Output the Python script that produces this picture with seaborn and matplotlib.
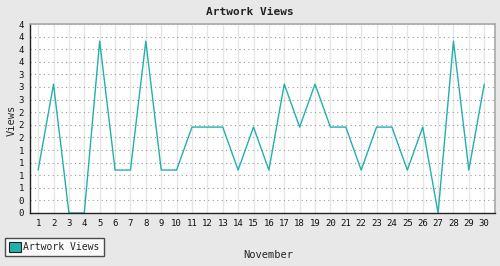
import matplotlib
matplotlib.use("Agg")
import matplotlib.pyplot as plt
import seaborn as sns
import pandas as pd
import numpy as np

days = list(range(1, 31))
views = [1, 3, 0, 0, 4, 1, 1, 4, 1, 1, 2, 2, 2, 1, 2, 1, 3, 2, 3, 2, 2, 1, 2, 2, 1, 2, 0, 4, 1, 3]
series_name = "Artwork Views"
ymax = 4.4
nticks = 15

df = pd.DataFrame({"day": days, "views": views})

sns.set_theme(style="white")
plt.rcParams['font.family'] = ['DejaVu Sans Mono']

fig = plt.figure(figsize=(5, 2.66), dpi=100, facecolor="#e8e8e8")
ax = fig.add_axes([30/500, 1-213/266, 465/500, 189/266])
ax.set_facecolor("white")

line_color = "#22b0ad"
sns.lineplot(data=df, x="day", y="views", ax=ax, color=line_color, linewidth=1.0, label=series_name, legend=False)

ax.set_xlim(0.47, 30.7)
ax.set_ylim(0, ymax)
ax.set_xticks(days)
ax.set_xticklabels([str(d) for d in days], fontsize=6.5)
yt = [k * ymax / nticks for k in range(nticks + 1)]
ax.set_yticks(yt)
ax.set_yticklabels([str(int(np.floor(v + 0.5))) for v in yt], fontsize=6.5)

ax.xaxis.grid(True, color="#e6e6e6", linewidth=1.0, linestyle="-")
ax.yaxis.grid(True, color="#999999", linewidth=0.8, linestyle=(0, (1, 3)))
ax.set_axisbelow(True)

for s in ["top", "right"]:
    ax.spines[s].set_color("#a8a8a8")
    ax.spines[s].set_linewidth(1.2)
for s in ["left", "bottom"]:
    ax.spines[s].set_color("#222222")
    ax.spines[s].set_linewidth(1.0)

ax.tick_params(axis="both", which="both", direction="out", length=3, width=0.8, color="#222222", pad=1.5, labelcolor="#111111")

ax.set_xlabel("November", fontsize=7.5)
ax.set_ylabel("Views", fontsize=7.5)
ax.xaxis.set_label_coords((268 - 30) / 465, (213 - 255) / 189)
ax.yaxis.set_label_coords((12 - 30) / 465, (213 - 120) / 189)
ax.xaxis.label.set_va("center")
ax.yaxis.label.set_va("center")
fig.text(0.5, 1-12/266, "Artwork Views", ha="center", va="center", fontsize=8, fontweight="bold", color="#222222")

handle = plt.Rectangle((0, 0), 1, 1, facecolor=line_color, edgecolor="#222222", linewidth=0.8)
leg = fig.legend([handle], [series_name], loc="lower left", bbox_to_anchor=(5/500, 10/266),
                 fontsize=7, frameon=True, fancybox=False, handlelength=1.2, handleheight=1.3,
                 handletextpad=0.3, borderpad=0.4, borderaxespad=0)
leg.get_frame().set_edgecolor("#222222")
leg.get_frame().set_linewidth(1.0)
leg.get_frame().set_facecolor("white")

fig.savefig("out.png", dpi=100, facecolor=fig.get_facecolor())
